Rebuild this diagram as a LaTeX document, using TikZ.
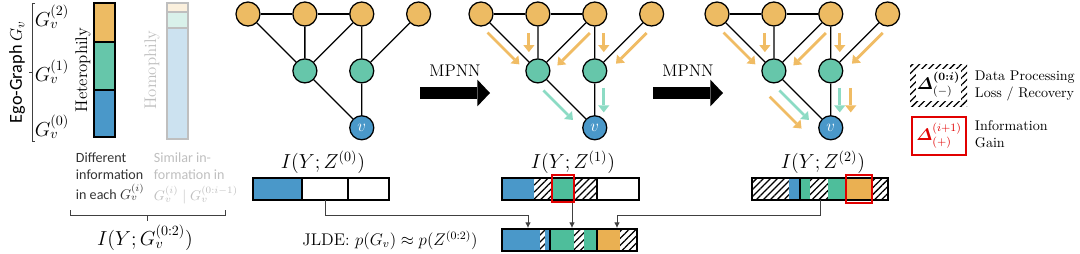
\documentclass[tikz,border=0pt]{standalone}
\usepackage{amsmath,amssymb,bm}
\usepackage{fontspec}
\newfontfamily\calibri{Carlito}
\usepackage{tikz}
\usetikzlibrary{arrows.meta,positioning,calc,patterns.meta}
\definecolor{hopO}{RGB}{237,187,99}
\definecolor{hopG}{RGB}{102,198,170}
\definecolor{hopB}{RGB}{74,152,201}
\definecolor{barG}{RGB}{78,190,155}
\definecolor{barO}{RGB}{234,176,82}
\definecolor{msgO}{RGB}{240,188,100}
\definecolor{msgG}{RGB}{140,219,196}
\definecolor{gainred}{RGB}{225,0,0}

\begin{document}
\begin{tikzpicture}[x=0.025cm,y=-0.025cm,>=Latex,node distance=0.79cm,
  hop/.style={circle,draw,line width=0.9pt,minimum size=0.6cm,inner sep=0pt},
  edge/.style={line width=0.9pt},
  msg/.style={line width=2pt,-{Triangle[length=5pt,width=8pt,line width=0pt]}},
  hatch/.style={pattern={Lines[angle=45,distance=3.5pt,line width=0.9pt]}},
  link/.style={draw=black!75,line width=0.6pt},
  gain/.style={draw=gainred,line width=2pt}]

\useasboundingbox (0,0) rectangle (1080,253);

% ego-graph and the two bars
\node[rotate=90,font=\calibri\fontsize{13}{15}\selectfont] (ego) at (17,72) {Ego-Graph $G_v$};
\draw[link] (35,3) -- (32,3) -- (32,141) -- (35,141) (32,72) -- (29,72);
\node (l2) at (52,17) {\Large $G_v^{(2)}$};
\node (l1) at (52,72) {\Large $G_v^{(1)}$};
\node (l0) at (52,127) {\Large $G_v^{(0)}$};

\fill[hopO] (94,3) rectangle (115,42);
\fill[hopG] (94,42) rectangle (115,90);
\fill[hopB] (94,90) rectangle (115,137);
\draw[edge] (94,3) rectangle (115,137) (94,42) -- (115,42) (94,90) -- (115,90);
\node[rotate=90,font=\large] (het) at (83,70) {Heterophily};

\fill[hopO!22] (167,3) rectangle (188,12);
\fill[hopG!25] (167,12) rectangle (188,28);
\fill[hopB!28] (167,28) rectangle (188,139);
\draw[black!25,line width=0.8pt] (167,3) rectangle (188,139) (167,12) -- (188,12) (167,28) -- (188,28);
\node[rotate=90,font=\large,text=black!25] (hom) at (152,70) {Homophily};

\node[anchor=north west,align=left,text=black!80,font=\calibri\fontsize{10}{12}\selectfont] (diff) at (71,148) {Different\\information\\[2pt]in each $G_v^{(i)}$};
\node[anchor=north west,align=left,text=black!25,font=\calibri\fontsize{10}{12}\selectfont] (sim) at (149,148) {Similar in-\\formation in\\[3pt]$G_v^{(i)}\mid G_v^{(0:i-1)}$};
\draw[link] (70,210) -- (70,215) -- (225,215) -- (225,210) (147,215) -- (147,221);
\node (ig) at (145,238) {\Large $I(Y;G_v^{(0:2)})$};

% the three graphs
\foreach \g/\gx in {1/248,2/481,3/717}{
  \node[hop,fill=hopO] (o1-\g) at (\gx,14) {};
  \node[hop,fill=hopO,right=of o1-\g] (o2-\g) {};
  \node[hop,fill=hopO,right=of o2-\g] (o3-\g) {};
  \node[hop,fill=hopO,right=of o3-\g] (o4-\g) {};
  \node[hop,fill=hopG,below=of o2-\g] (g1-\g) {};
  \node[hop,fill=hopG,below=of o3-\g] (g2-\g) {};
  \node[hop,fill=hopB,below=of g2-\g,text=white,font=\large] (v-\g) {$v$};
  \draw[edge] (o1-\g) -- (o2-\g) -- (o3-\g);
  \draw[edge] (o1-\g) -- (g1-\g) -- (o2-\g) (o3-\g) -- (g1-\g) -- (v-\g);
  \draw[edge] (o3-\g) -- (g2-\g) -- (o4-\g) (g2-\g) -- (v-\g);
}

% messages
\foreach \g in {2,3}{
  \draw[msg,msgO] ($(o1-\g)!.22!(g1-\g)+(-6,6)$) -- ($(o1-\g)!.78!(g1-\g)+(-6,6)$);
  \draw[msg,msgO] ($(o2-\g)!.33!(g1-\g)+(-9,0)$) -- ($(o2-\g)!.67!(g1-\g)+(-9,0)$);
  \draw[msg,msgO] ($(o3-\g)!.21!(g1-\g)+(7,7)$) -- ($(o3-\g)!.78!(g1-\g)+(7,7)$);
  \draw[msg,msgO] ($(o3-\g)!.33!(g2-\g)+(9,0)$) -- ($(o3-\g)!.67!(g2-\g)+(9,0)$);
  \draw[msg,msgO] ($(o4-\g)!.21!(g2-\g)+(7,7)$) -- ($(o4-\g)!.75!(g2-\g)+(7,7)$);
  \draw[msg,msgG] ($(g1-\g)!.22!(v-\g)+(-7,7)$) -- ($(g1-\g)!.74!(v-\g)+(-7,7)$);
  \draw[msg,msgG] ($(g2-\g)!.3!(v-\g)+(9,0)$) -- ($(g2-\g)!.73!(v-\g)+(9,0)$);
}
\draw[msg,msgO] ($(g1-3)!.19!(v-3)+(-15,15)$) -- ($(g1-3)!.75!(v-3)+(-15,15)$);
\draw[msg,msgO] ($(g2-3)!.3!(v-3)+(20,0)$) -- ($(g2-3)!.73!(v-3)+(20,0)$);

% MPNN steps
\coordinate (a1s) at (420,93);
\coordinate (a1e) at (490,93);
\coordinate (a2s) at (653,93);
\coordinate (a2e) at (723,93);
\draw[line width=8.5pt,-{Triangle[length=9pt,width=19pt,line width=0pt]}] (a1s) -- node[above=4pt,font=\large] (mp1) {MPNN} (a1e);
\draw[line width=8.5pt,-{Triangle[length=9pt,width=19pt,line width=0pt]}] (a2s) -- node[above=4pt,font=\large] (mp2) {MPNN} (a2e);

% information bars
\node (i0) at (323,162) {\Large $I(Y;Z^{(0)})$};
\node (i1) at (573,162) {\Large $I(Y;Z^{(1)})$};
\node (i2) at (823,162) {\Large $I(Y;Z^{(2)})$};

\fill[hopB] (253,178) rectangle (302,200);
\draw[edge] (253,178) rectangle (389,200) (302,178) -- (302,200) (348,178) -- (348,200);

\fill[hopB] (502,178) rectangle (534,200);
\fill[hatch] (534,178) rectangle (551,200);
\fill[barG] (551,178) rectangle (573,200);
\fill[hatch] (573,178) rectangle (597,200);
\draw[edge] (502,178) rectangle (639,200) (597,178) -- (597,200);
\draw[gain] (552,175) rectangle (574,202);

\fill[hatch] (752,178) rectangle (789,200);
\fill[hopB] (789,178) rectangle (800,200);
\fill[barG] (800,178) rectangle (810,200);
\fill[hatch] (810,178) rectangle (828,200);
\fill[barG] (828,178) rectangle (845,200);
\fill[barO] (845,178) rectangle (872,200);
\fill[hatch] (872,178) rectangle (888,200);
\draw[edge] (752,178) rectangle (888,200) (800,178) -- (800,200);
\draw[gain] (846,175) rectangle (872,203);

% joint bar
\fill[hopB] (502,229) rectangle (540,251);
\fill[hatch] (540,229) rectangle (545,251);
\fill[hopB] (545,229) rectangle (550,251);
\fill[barG] (550,229) rectangle (574,251);
\fill[hatch] (574,229) rectangle (584,251);
\fill[barG] (584,229) rectangle (597,251);
\fill[barO] (597,229) rectangle (620,251);
\fill[hatch] (620,229) rectangle (637,251);
\draw[edge] (502,229) rectangle (637,251) (550,229) -- (550,251) (597,229) -- (597,251);
\node (jlde) at (390,240) {\large JLDE: $p(G_v)\approx p(Z^{(0:2)})$};

\coordinate (z0) at (325,200);
\coordinate (z1) at (572,203);
\coordinate (z2) at (820,200);
\coordinate (j0) at (528,228);
\coordinate (j1) at (572,228);
\coordinate (j2) at (617,228);
\draw[link,-{Latex[length=4pt,width=4pt]}] (z0) -- ++(0,15) -| (j0);
\draw[link,-{Latex[length=4pt,width=4pt]}] (z1) -- (j1);
\draw[link,-{Latex[length=4pt,width=4pt]}] (z2) -- ++(0,15) -| (j2);

% legend
\fill[hatch] (910,64) rectangle (967,106);
\fill[white] (916,69) rectangle (961,101);
\node (dm) at (938.5,85) {\large $\bm{\varDelta}^{\bm{(0:i)}}_{(-)}$};
\node[anchor=west,align=left] (dl) at (970,86) {Data Processing\\Loss / Recovery};
\draw[gain] (912,117) rectangle (966,155);
\node[text=gainred] (gm) at (939,136) {\large $\bm{\varDelta}^{(i+1)}_{(+)}$};
\node[anchor=west,align=left] (gl) at (970,134) {Information\\Gain};
\end{tikzpicture}
\end{document}
